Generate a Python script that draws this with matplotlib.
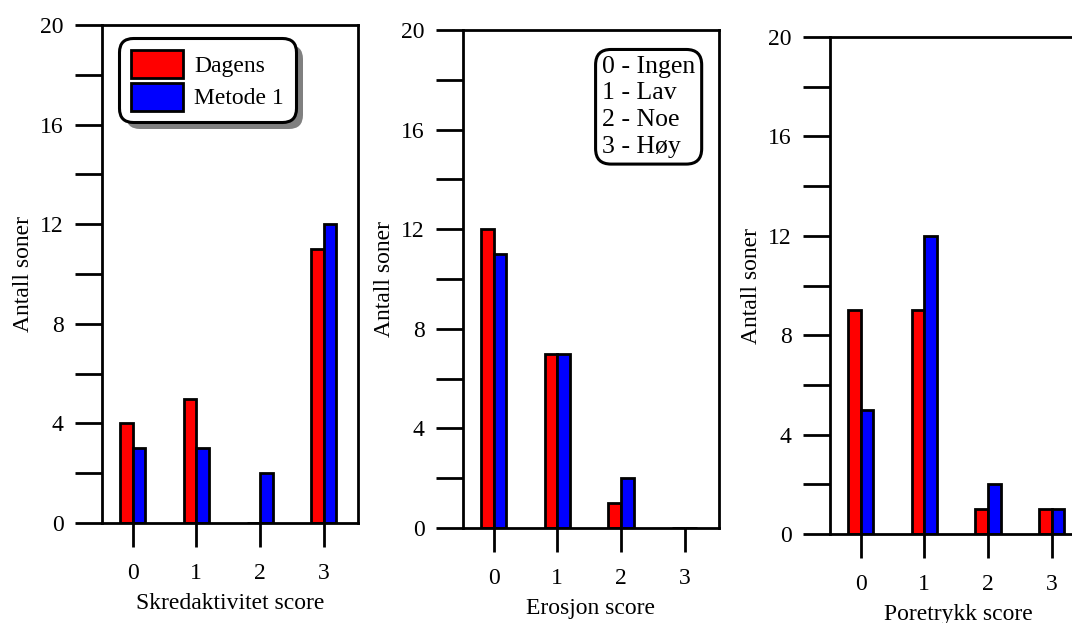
import numpy as np
import matplotlib
matplotlib.use("Agg")
import matplotlib.pyplot as plt
from matplotlib.ticker import MultipleLocator
from matplotlib import patheffects as pe

# DATA
scores = [0, 1, 2, 3]
score_labels = ["0", "1", "2", "3"]
series_names = ["Dagens", "Metode 1"]
xlabels = ["Skredaktivitet score", "Erosjon score", "Poretrykk score"]
dagens_skred = [4, 5, 0, 11]
metode_skred = [3, 3, 2, 12]
dagens_erosjon = [12, 7, 1, 0]
metode_erosjon = [11, 7, 2, 0]
dagens_poretrykk = [9, 9, 1, 1]
metode_poretrykk = [5, 12, 2, 1]
score_meaning = ["0 - Ingen", "1 - Lav", "2 - Noe", "3 - Høy"]

plt.rcParams["font.family"] = "Liberation Serif"
FS = 17
LW = 2

W, H = 1072, 623
fig = plt.figure(figsize=(W / 100, H / 100), dpi=100)

# panel rectangles in pixels: left, top, right, bottom
rects = [(102, 25, 358, 523), (463, 30, 719, 528), (830, 37, 1086, 534)]
data = [(dagens_skred, metode_skred), (dagens_erosjon, metode_erosjon),
        (dagens_poretrykk, metode_poretrykk)]

x = np.array(scores)
w = 0.2
axes = []
for (l, t, r, b), (dag, met), xl in zip(rects, data, xlabels):
    ax = fig.add_axes([l / W, 1 - b / H, (r - l) / W, (b - t) / H])
    ax.bar(x - w, dag, width=w, align="edge", color="#ff0000",
           edgecolor="black", linewidth=LW, label=series_names[0])
    ax.bar(x, met, width=w, align="edge", color="#0000ff",
           edgecolor="black", linewidth=LW, label=series_names[1])
    ax.set_xlim(-0.48, 3.54)
    ax.set_ylim(0, 20)
    ax.yaxis.set_major_locator(MultipleLocator(4))
    ax.yaxis.set_minor_locator(MultipleLocator(2))
    ax.set_xticks(scores)
    ax.set_xticklabels(score_labels)
    for s in ax.spines.values():
        s.set_linewidth(LW)
    ax.tick_params(axis="y", which="both", direction="out", length=19.5,
                   width=LW, pad=8, labelsize=FS, right=False)
    ax.tick_params(axis="x", direction="out", length=17, width=LW,
                   pad=12, labelsize=FS, top=False)
    ax.set_ylabel("Antall soner", fontsize=FS)
    ax.set_xlabel(xl, fontsize=FS)
    ax.yaxis.set_label_coords(-0.265, 0.5)
    ax.xaxis.set_label_coords(0.5, -0.14)
    axes.append(ax)

# legend with shadow (panel 1)
leg = axes[0].legend(loc="upper left", bbox_to_anchor=(0.066, 0.974),
                     fontsize=FS, handlelength=2.2, handleheight=1.45,
                     handletextpad=0.5, labelspacing=0.2, borderpad=0.5,
                     borderaxespad=0, fancybox=True, framealpha=1,
                     edgecolor="black")
frame = leg.get_frame()
frame.set_linewidth(2.2)
frame.set_boxstyle("round,pad=0,rounding_size=0.6")
frame.set_path_effects([pe.SimplePatchShadow(offset=(5, -5), shadow_rgbFace="gray", alpha=1),
                        pe.Normal()])

# score explanation (panel 2)
axes[1].text(0.543, 0.948, "\n".join(score_meaning), transform=axes[1].transAxes,
             ha="left", va="top", fontsize=18.5, linespacing=1.27,
             bbox=dict(boxstyle="round,pad=0.25,rounding_size=0.6",
                       fc="white", ec="black", lw=2.2))

plt.savefig("out.png", dpi=100)
